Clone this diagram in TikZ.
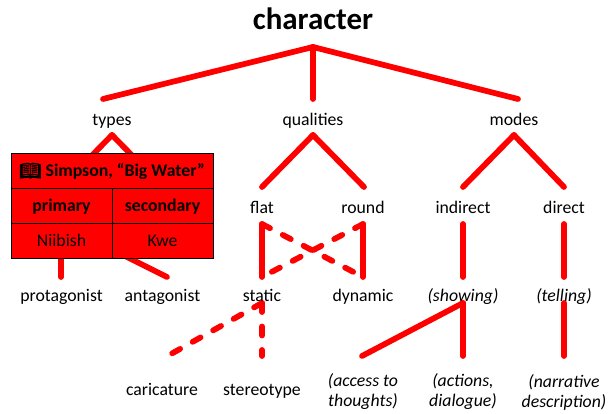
\documentclass[tikz,border=0pt]{standalone}
\usepackage{fontspec}
\setmainfont{Carlito}
\newfontfamily\emojifont[FakeBold=2]{Noto Emoji}
\usepackage{tikz}
\tikzset{
  link/.style={draw=red,line width=4.3pt,line cap=round},
  dashlink/.style={link,dash pattern=on 6.8pt off 10.8pt},
  label/.style={font=\fontsize{13.3}{15}\selectfont,inner sep=0pt,align=center},
  cell/.style={draw=black,fill=red,line width=.6pt,inner sep=0pt,text height=11pt,text depth=1.7pt,font=\fontsize{13.3}{15}\selectfont}
}
\begin{document}
\begin{tikzpicture}[x=.75pt,y=-.75pt]
\useasboundingbox (0,0) rectangle (608,414);
% free ends of the links
\foreach \n/\x/\y in {root/313/47, typesup/103/99, qualup/313/99, modesup/518/99,
  typesdown/112/135, prim/61/187, sec/163/187, qualdown/313/135, flatup/262/187, roundup/364/187,
  modesdown/514/135, indup/463/187, dirup/564/187,
  primdown/61/224, protup/61/277, antup/167/277,
  flatdown/262/224, staticup/262/277, rounddown/363/224, dynup/363/277,
  inddown/463/224, showup/463/277, dirdown/564/224, tellup/564/277,
  staticdown/262/303, carup/171/354, stereoup/262/356,
  showdown/463/303, accessup/362/356, actionsup/463/356,
  telldown/564/303, narrup/564/356}
  \coordinate (\n) at (\x,\y);
% solid links
\foreach \a/\b in {root/typesup, root/qualup, root/modesup,
  typesdown/prim, typesdown/sec, qualdown/flatup, qualdown/roundup,
  modesdown/indup, modesdown/dirup, primdown/protup, primdown/antup,
  flatdown/staticup, rounddown/dynup, inddown/showup, dirdown/tellup,
  showdown/accessup, showdown/actionsup, telldown/narrup}
  \draw[link] (\a) -- (\b);
% dashed links
\foreach \a/\b in {flatdown/dynup, rounddown/staticup, staticdown/carup, staticdown/stereoup}
  \draw[dashlink] (\a) -- (\b);
% labels
\node[font=\fontsize{23.2}{26}\selectfont\bfseries,inner sep=0pt,anchor=base] (character) at (313,30) {character};
\foreach \n/\x/\y/\t in {types/112/125/types, qualities/313/125/qualities, modes/514/125/modes,
  flat/262/213/flat, round/363/213/round, indirect/463/213/indirect, direct/564/213/direct,
  protagonist/61.5/301/protagonist, antagonist/162.5/301/antagonist, static/262/301/static, dynamic/363/301/dynamic,
  caricature/162/395/caricature, stereotype/262/395/stereotype}
  \node[label,anchor=base] (\n) at (\x,\y) {\t};
\foreach \n/\x/\y/\t in {showing/463/301/(showing), telling/564/301/(telling)}
  \node[label,anchor=base,font=\fontsize{13.3}{15}\selectfont\itshape] (\n) at (\x,\y) {\t};
\foreach \n/\x/\y/\t in {access/363/392/{(access to\\thoughts)}, actions/463/392/{(actions,\\dialogue)},
  narrative/564/392/{(narrative\\description)}}
  \node[label,font=\fontsize{13.3}{15}\selectfont\itshape] (\n) at (\x,\y) {\t};
% table over the links
\node[cell,minimum width=151.5pt,minimum height=26.25pt] (source) at (112,170.5) {\textbf{{\emojifont 📖} Simpson, “Big Water”}};
\node[cell,minimum width=75.75pt,minimum height=26.25pt] (primary) at (61.5,205.5) {\textbf{primary}};
\node[cell,minimum width=75.75pt,minimum height=26.25pt] (secondary) at (162.5,205.5) {\textbf{secondary}};
\node[cell,minimum width=75.75pt,minimum height=26.25pt] (niibish) at (61.5,240.5) {Niibish};
\node[cell,minimum width=75.75pt,minimum height=26.25pt] (kwe) at (162.5,240.5) {Kwe};
\end{tikzpicture}
\end{document}
